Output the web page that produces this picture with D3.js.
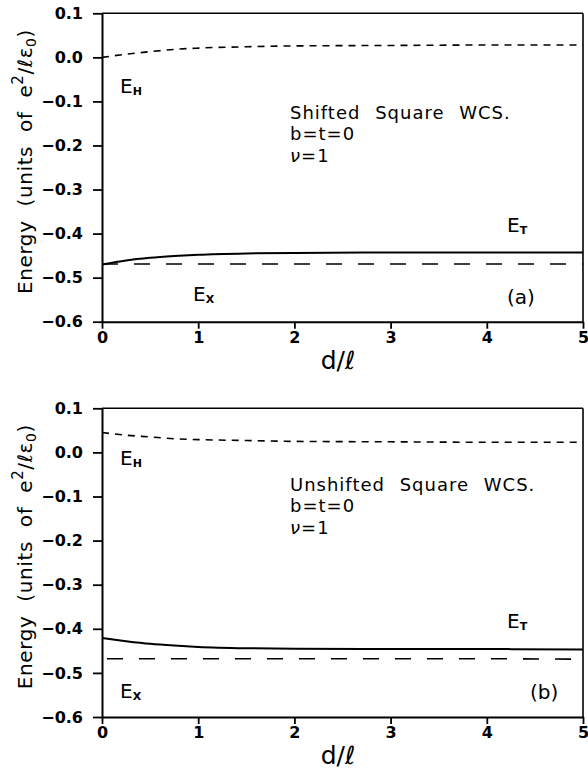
<!DOCTYPE html>
<html>
<head>
<meta charset="utf-8">
<script src="https://cdn.jsdelivr.net/npm/d3@7"></script>
<style>
  html, body { margin: 0; padding: 0; background: #fff; }
  svg { display: block; }
</style>
</head>
<body>
<script>
// Separation d/ℓ sampled for the energy curves
const dValues = [0, 0.25, 0.5, 0.75, 1, 1.5, 2, 3, 4, 5];

// (a) shifted square lattice
const shiftedEH = [0.000, 0.007, 0.013, 0.018, 0.021, 0.024, 0.026, 0.027, 0.028, 0.028];
const shiftedET = [-0.470, -0.461, -0.455, -0.451, -0.448, -0.445, -0.444, -0.443, -0.443, -0.443];
const shiftedEX = [-0.469, -0.469, -0.469, -0.469, -0.469, -0.469, -0.469, -0.469, -0.469, -0.469];

// (b) unshifted square lattice
const unshiftedEH = [0.045, 0.039, 0.035, 0.031, 0.029, 0.027, 0.025, 0.024, 0.023, 0.023];
const unshiftedET = [-0.421, -0.428, -0.434, -0.438, -0.441, -0.444, -0.445, -0.446, -0.446, -0.447];
const unshiftedEX = [-0.468, -0.468, -0.468, -0.468, -0.468, -0.468, -0.468, -0.468, -0.468, -0.469];

const xTicks = [0, 1, 2, 3, 4, 5];
const yTicks = [0.1, 0.0, -0.1, -0.2, -0.3, -0.4, -0.5, -0.6];

const W = 588, H = 771;
const svg = d3.select("body").append("svg").attr("width", W).attr("height", H);

const left = 102, right = 583;
const x = d3.scaleLinear().domain([0, 5]).range([left, right]);

const FONT = "'DejaVu Sans', sans-serif";

function drawPanel(top, bottom, cfg) {
  const y = d3.scaleLinear().domain([-0.6, 0.1]).range([bottom, top]);
  const g = svg.append("g");

  // frame: top and right edges
  g.append("line").attr("x1", left).attr("x2", right).attr("y1", top).attr("y2", top)
    .attr("stroke", "#000").attr("stroke-width", 1.6);
  g.append("line").attr("x1", right).attr("x2", right).attr("y1", top).attr("y2", bottom)
    .attr("stroke", "#000").attr("stroke-width", 1.6);

  const ax = g.append("g").attr("transform", `translate(0,${bottom})`)
    .call(d3.axisBottom(x).tickValues(xTicks).tickFormat(d3.format("d"))
      .tickSizeInner(7).tickSizeOuter(0).tickPadding(3));
  const ay = g.append("g").attr("transform", `translate(${left},0)`)
    .call(d3.axisLeft(y).tickValues(yTicks).tickFormat(d3.format(".1f"))
      .tickSizeInner(9).tickSizeOuter(0).tickPadding(10));
  [ax, ay].forEach(a => {
    a.select(".domain").attr("stroke-width", 2);
    a.selectAll(".tick line").attr("stroke-width", 1.8);
    a.selectAll(".tick text").attr("font-family", FONT).attr("font-weight", "bold")
      .attr("font-size", 16).attr("fill", "#000");
  });

  const line = d3.line().x((d, i) => x(dValues[i])).y(d => y(d)).curve(d3.curveMonotoneX);

  g.append("path").datum(cfg.eh).attr("d", line).attr("fill", "none")
    .attr("stroke", "#000").attr("stroke-width", 1.6).attr("stroke-dasharray", "7,6");
  g.append("path").datum(cfg.et).attr("d", line).attr("fill", "none")
    .attr("stroke", "#000").attr("stroke-width", 2);
  g.append("path").datum(cfg.ex).attr("d", line).attr("fill", "none")
    .attr("stroke", "#000").attr("stroke-width", 1.6).attr("stroke-dasharray", "16,16")
    .attr("stroke-dashoffset", cfg.exOffset);

  // curve labels: E with small subscript
  function eLabel(px, py, sub) {
    const t = g.append("text").attr("x", px).attr("y", py)
      .attr("font-family", FONT).attr("font-size", 20).attr("fill", "#000");
    t.append("tspan").text("E");
    t.append("tspan").attr("dy", 2).attr("font-size", 11).attr("font-weight", "bold").text(sub);
  }
  eLabel(cfg.ehPos[0], cfg.ehPos[1], "H");
  eLabel(cfg.exPos[0], cfg.exPos[1], "X");
  eLabel(507, cfg.etY, "T");

  // description block
  const desc = g.append("text").attr("font-family", FONT).attr("font-size", 18)
    .attr("fill", "#000").attr("letter-spacing", 1.0).attr("word-spacing", 8);
  desc.append("tspan").attr("x", 290).attr("y", cfg.descY).text(cfg.title);
  desc.append("tspan").attr("x", 290).attr("y", cfg.descY + 21.3).text("b=t=0");
  const nu = desc.append("tspan").attr("x", 290).attr("y", cfg.descY + 42.6);
  nu.append("tspan").attr("font-style", "italic").text("ν");
  nu.append("tspan").text("=1");

  g.append("text").attr("x", cfg.tagX).attr("y", bottom - 18)
    .attr("font-family", FONT).attr("font-size", 20).attr("fill", "#000").text(cfg.tag);

  // axis titles
  g.append("text").attr("x", 338).attr("y", bottom + 47).attr("text-anchor", "middle")
    .attr("font-family", FONT).attr("font-size", 25).attr("fill", "#000").text("d/ℓ");

  const yl = g.append("text").attr("transform", `translate(32,${(top + bottom) / 2 - 6}) rotate(-90)`)
    .attr("text-anchor", "middle").attr("font-family", FONT).attr("font-size", 20)
    .attr("fill", "#000").attr("letter-spacing", 0.6);
  yl.append("tspan").text("Energy\u00a0\u00a0(units\u00a0\u00a0of\u00a0\u00a0e");
  yl.append("tspan").attr("dy", -9).attr("font-size", 15).text("2");
  yl.append("tspan").attr("dy", 9).text("/ℓε");
  yl.append("tspan").attr("dy", 4).attr("font-size", 14).text("0");
  yl.append("tspan").attr("dy", -4).text(")");
}

drawPanel(13.3, 321.7, {
  eh: shiftedEH, et: shiftedET, ex: shiftedEX, exOffset: 0,
  ehPos: [120, 93], exPos: [193, 301], etY: 232,
  descY: 119, title: "Shifted Square WCS.", tag: "(a)", tagX: 507
});
drawPanel(408.3, 717, {
  eh: unshiftedEH, et: unshiftedET, ex: unshiftedEX, exOffset: -5,
  ehPos: [120, 465], exPos: [120, 698], etY: 628,
  descY: 491, title: "Unshifted Square WCS.", tag: "(b)", tagX: 530
});
</script>
</body>
</html>
